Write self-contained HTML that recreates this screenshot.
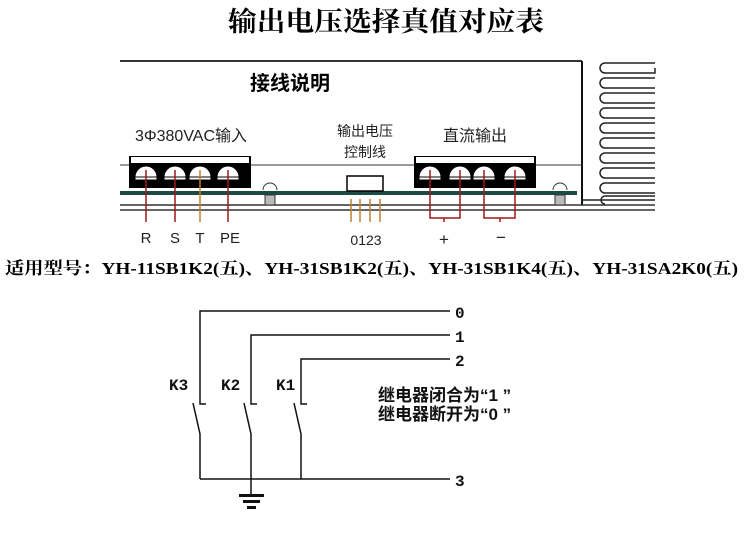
<!DOCTYPE html>
<html><head><meta charset="utf-8"><style>
html,body{margin:0;padding:0;background:#fff;}
svg{display:block;}
</style></head><body>
<svg width="746" height="534" viewBox="0 0 746 534" xmlns="http://www.w3.org/2000/svg" font-family="'Liberation Sans','Noto Sans CJK SC',sans-serif">
<text x="386" y="31" text-anchor="middle" font-family="'Liberation Serif','Noto Serif CJK SC',serif" font-weight="bold" font-size="27" textLength="316" lengthAdjust="spacingAndGlyphs">输出电压选择真值对应表</text>
<!-- housing -->
<line x1="120" y1="61" x2="582" y2="61" stroke="#333" stroke-width="2"/>
<line x1="582" y1="61" x2="582" y2="205" stroke="#111" stroke-width="2"/>
<line x1="120" y1="165" x2="582" y2="165" stroke="#333" stroke-width="1"/>
<text x="290" y="90" text-anchor="middle" font-weight="bold" font-size="20">接线说明</text>
<!-- heat sink fins -->
<g fill="none" stroke="#222" stroke-width="1.5">
<path d="M655 63 H605 a5 5 0 0 0 0 10 H655 V68"/>
<path d="M655 78 H605 a5 5 0 0 0 0 10 H655"/>
<path d="M655 93 H605 a5 5 0 0 0 0 10 H655"/>
<path d="M655 108 H605 a5 5 0 0 0 0 10 H655"/>
<path d="M655 123 H605 a5 5 0 0 0 0 10 H655"/>
<path d="M655 138 H605 a5 5 0 0 0 0 10 H655"/>
<path d="M655 153 H605 a5 5 0 0 0 0 10 H655"/>
<path d="M655 168 H605 a5 5 0 0 0 0 10 H655"/>
<path d="M655 183 H605 a5 5 0 0 0 0 10 H655"/>
<path d="M655 196 H605 a4 4 0 0 0 0 8"/>
</g>
<line x1="582" y1="200" x2="655" y2="200" stroke="#222" stroke-width="1.5"/>
<!-- base lines -->
<line x1="120" y1="205" x2="655" y2="205" stroke="#333" stroke-width="1.5"/>
<line x1="120" y1="210" x2="655" y2="210" stroke="#333" stroke-width="1.5"/>
<!-- pcb -->
<rect x="120" y="191" width="457" height="4" fill="#1d4a42"/>
<!-- left block -->
<text x="191" y="141" text-anchor="middle" font-size="16" fill="#222">3Φ380VAC输入</text>
<rect x="129" y="156" width="122" height="32" fill="#000"/>
<rect x="131" y="157" width="118" height="6" fill="#fff"/>
<g fill="#fff" stroke="#000" stroke-width="1">
<path d="M135 177 a11 11 0 0 1 22 0 z"/><rect x="135" y="177" width="22" height="3"/>
<path d="M164 177 a11 11 0 0 1 22 0 z"/><rect x="164" y="177" width="22" height="3"/>
<path d="M189 177 a11 11 0 0 1 22 0 z"/><rect x="189" y="177" width="22" height="3"/>
<path d="M217 177 a11 11 0 0 1 22 0 z"/><rect x="217" y="177" width="22" height="3"/>
</g>
<g stroke-width="1.5">
<line x1="146" y1="170" x2="146" y2="222" stroke="#a01818"/>
<line x1="175" y1="170" x2="175" y2="222" stroke="#a01818"/>
<line x1="200" y1="170" x2="200" y2="222" stroke="#c08030"/>
<line x1="228" y1="170" x2="228" y2="222" stroke="#a01818"/>
</g>
<g font-size="15" text-anchor="middle" fill="#222">
<text x="146" y="243">R</text><text x="175" y="243">S</text><text x="200" y="243">T</text><text x="230" y="243">PE</text>
</g>
<!-- bumps -->
<path d="M263 190 a7 7 0 0 1 14 0" fill="#fff" stroke="#333"/>
<rect x="265" y="195" width="10" height="10" fill="#bbb" stroke="#333"/>
<path d="M553 190 a7 7 0 0 1 14 0" fill="#fff" stroke="#333"/>
<rect x="555" y="195" width="10" height="10" fill="#bbb" stroke="#333"/>
<!-- control -->
<text x="365" y="136" text-anchor="middle" font-size="14" fill="#222">输出电压</text>
<text x="365" y="157" text-anchor="middle" font-size="14" fill="#222">控制线</text>
<rect x="347" y="176" width="36" height="15" fill="#fff" stroke="#000" stroke-width="1.5"/>
<g stroke="#c08030" stroke-width="1.5">
<line x1="351" y1="199" x2="351" y2="222"/><line x1="360" y1="199" x2="360" y2="222"/>
<line x1="370" y1="199" x2="370" y2="222"/><line x1="380" y1="199" x2="380" y2="222"/>
</g>
<text x="366" y="245" text-anchor="middle" font-size="14" fill="#222">0123</text>
<!-- right block -->
<text x="475" y="141" text-anchor="middle" font-size="16" fill="#222">直流输出</text>
<rect x="414" y="156" width="122" height="32" fill="#000"/>
<rect x="416" y="157" width="118" height="6" fill="#fff"/>
<g fill="#fff" stroke="#000" stroke-width="1">
<path d="M419 177 a11 11 0 0 1 22 0 z"/><rect x="419" y="177" width="22" height="3"/>
<path d="M449 177 a11 11 0 0 1 22 0 z"/><rect x="449" y="177" width="22" height="3"/>
<path d="M473 177 a11 11 0 0 1 22 0 z"/><rect x="473" y="177" width="22" height="3"/>
<path d="M504 177 a11 11 0 0 1 22 0 z"/><rect x="504" y="177" width="22" height="3"/>
</g>
<g stroke="#a01818" stroke-width="1.5" fill="none">
<path d="M430 170 V218 H460 V170"/><path d="M444 218 V222"/>
<path d="M484 170 V218 H515 V170"/><path d="M500 218 V222"/>
</g>
<text x="444" y="245" text-anchor="middle" font-size="17" fill="#222">+</text>
<text x="501" y="243" text-anchor="middle" font-size="17" fill="#222">−</text>
<!-- models -->
<text x="5" y="274" font-family="'Liberation Serif','Noto Serif CJK SC',serif" font-weight="bold" font-size="17" textLength="733" lengthAdjust="spacingAndGlyphs">适用型号：YH-11SB1K2(五)、YH-31SB1K2(五)、YH-31SB1K4(五)、YH-31SA2K0(五)</text>
<!-- relay circuit -->
<g stroke="#111" stroke-width="1.5" fill="none">
<path d="M450 311 H200 V404 H206"/>
<path d="M450 335 H251 V404 H257"/>
<path d="M450 359 H301 V404 H307"/>
<path d="M193 403 L200 434 V479"/>
<path d="M244 403 L251 434 V495"/>
<path d="M294 403 L301 434 V479"/>
<path d="M200 479 H450"/>
</g>
<rect x="239" y="494" width="25" height="3" fill="#111"/>
<rect x="243" y="500" width="17" height="3" fill="#111"/>
<rect x="247" y="506" width="9" height="3" fill="#111"/>
<g font-family="'Liberation Mono',monospace" font-weight="bold" font-size="16" fill="#111">
<text x="455" y="318">0</text><text x="455" y="342">1</text><text x="455" y="366">2</text><text x="455" y="486">3</text>
<text x="169" y="390">K3</text><text x="221" y="390">K2</text><text x="276" y="390">K1</text>
</g>
<text x="378" y="401" font-size="17" font-weight="bold" fill="#111">继电器闭合为“1 ”</text>
<text x="378" y="420" font-size="17" font-weight="bold" fill="#111">继电器断开为“0 ”</text>
</svg>
</body></html>
